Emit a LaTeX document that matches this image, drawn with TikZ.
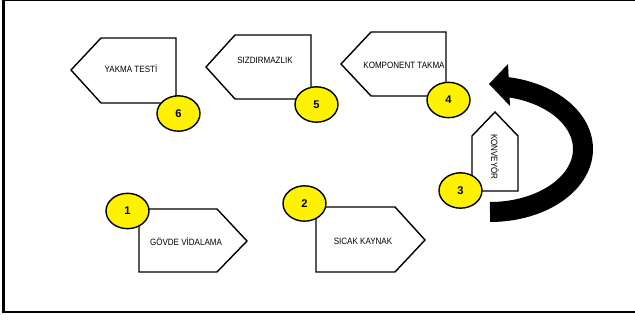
\documentclass[tikz,border=0pt]{standalone}
\usepackage{fontspec}
\setmainfont{Liberation Sans}
\newfontfamily\stationfont{Liberation Sans}[FakeStretch=0.88]
\usetikzlibrary{shapes.geometric}

\begin{document}
\begin{tikzpicture}[x=0.03cm, y=-0.03cm,
    station/.style = {draw, line width=1.2pt, fill=white},
    stationtext/.style = {font=\stationfont\fontsize{7.8}{9}\selectfont, inner sep=0pt},
    numcircle/.style = {ellipse, draw, line width=1.2pt, fill=yellow,
        minimum width=1.29cm, minimum height=1.06cm, inner sep=0pt,
        font=\fontsize{9.5}{10}\selectfont\bfseries}]
    \useasboundingbox (0,0) rectangle (635,320);

    % Frame
    \draw[line width=0.8pt] (3.5,0.6) -- (635,0.6);
    \draw[line width=2.2pt] (3.5,0) -- (3.5,312) -- (635,312);

    % Stations, upper row (pointing left)
    \draw[station] (71,70) -- (101,38) -- (176,38) -- (176,103) -- (101,103) -- cycle;
    \draw[station] (206,67) -- (235,35) -- (311,35) -- (311,99) -- (235,99) -- cycle;
    \draw[station] (341,64) -- (371,32) -- (446,32) -- (446,96) -- (371,96) -- cycle;

    % Conveyor (pointing up)
    \draw[station] (495,112) -- (518,136) -- (518,191) -- (472,191) -- (472,136) -- cycle;

    % Stations, lower row (pointing right)
    \draw[station] (139,209) -- (217,209) -- (247,241) -- (217,272) -- (139,272) -- cycle;
    \draw[station] (316,207) -- (395,207) -- (425,240) -- (395,272) -- (316,272) -- cycle;

    % Labels
    \node[stationtext] (yakma) at (131,69) {YAKMA TESTİ};
    \node[stationtext] (sizdir) at (265,60) {SIZDIRMAZLIK};
    \node[stationtext] (kompon) at (404,65) {KOMPONENT TAKMA};
    \node[stationtext, rotate=-90] (konvey) at (495,157) {KONVEYÖR};
    \node[stationtext] (govde) at (186,242) {GÖVDE VİDALAMA};
    \node[stationtext] (sicak) at (363,241) {SICAK KAYNAK};

    % Numbers
    \node[numcircle] (n1) at (127.5,211) {1};
    \node[numcircle] (n2) at (304.5,203.5) {2};
    \node[numcircle] (n3) at (460.5,190.5) {3};
    \node[numcircle] (n4) at (448.5,100) {4};
    \node[numcircle] (n5) at (316.5,104.5) {5};
    \node[numcircle] (n6) at (178.5,113.5) {6};

    % Return arrow
    \draw[line width=0.6cm] plot[domain=-90:80, samples=60, smooth]
        ({490+93*cos(\x)}, {149-63*sin(\x)});
    \fill (489,84) -- (508,64) -- (510,106) -- cycle;

\end{tikzpicture}
\end{document}
